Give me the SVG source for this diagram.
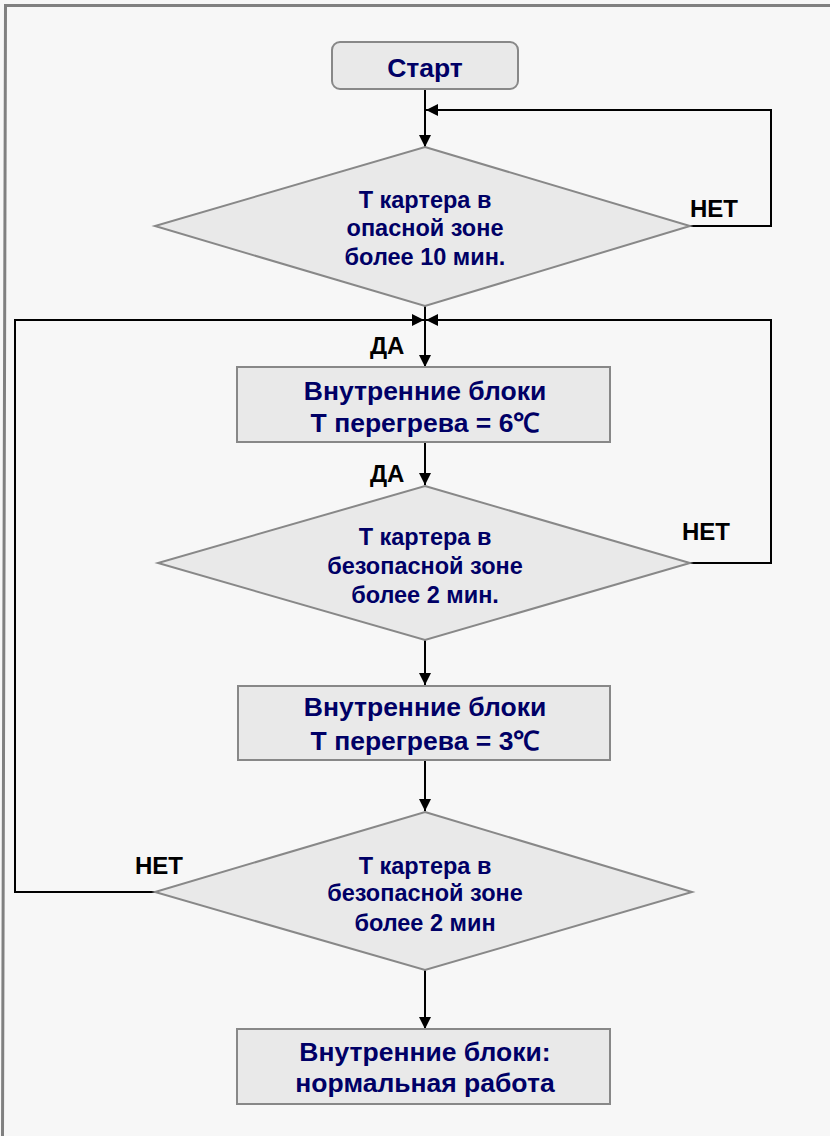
<svg xmlns="http://www.w3.org/2000/svg" width="830" height="1136" viewBox="0 0 830 1136">
<style>
.bg{fill:#f7f7f7}
.frame{fill:none;stroke:#808080;stroke-width:3}
.node{fill:#e9e9e9;stroke:#888888;stroke-width:2}
.t{font-family:"Liberation Sans",Arial,sans-serif;font-weight:bold;fill:#000066;text-anchor:middle}
.d{font-size:23.5px}
.r{font-size:26.5px}
.lbl{font-family:"Liberation Sans",Arial,sans-serif;font-weight:bold;font-size:24px;fill:#000000}
.c{fill:none;stroke:#000000;stroke-width:2}
</style>
<defs>
<marker id="ah" viewBox="0 0 10 10" refX="10" refY="5" markerWidth="6" markerHeight="6" markerUnits="strokeWidth" orient="auto">
<path d="M0,0 L10,5 L0,10 z" fill="#000000"/>
</marker>
</defs>
<rect class="bg" x="0" y="0" width="830" height="1136"/>
<path class="frame" d="M2.5,1140 L5.5,5.5 L835,5.5"/>
<g id="connectors">
<path class="c" d="M425,89 L425,147" marker-end="url(#ah)"/>
<path class="c" d="M690,226 L771,226 L771,110 L426,110" marker-end="url(#ah)"/>
<path class="c" d="M425,305 L425,367" marker-end="url(#ah)"/>
<path class="c" d="M155,892 L15,892 L15,320 L424,320" marker-end="url(#ah)"/>
<path class="c" d="M690,563 L771,563 L771,320 L426,320" marker-end="url(#ah)"/>
<path class="c" d="M425,442 L425,485" marker-end="url(#ah)"/>
<path class="c" d="M425,640 L425,685" marker-end="url(#ah)"/>
<path class="c" d="M425,760 L425,811" marker-end="url(#ah)"/>
<path class="c" d="M425,970 L425,1029" marker-end="url(#ah)"/>
<text class="lbl" x="690" y="217">НЕТ</text>
<text class="lbl" x="370" y="354">ДА</text>
<text class="lbl" x="370" y="482">ДА</text>
<text class="lbl" x="682" y="540">НЕТ</text>
<text class="lbl" x="135" y="874">НЕТ</text>
</g>
<g id="start">
<rect class="node" x="332" y="42" width="186" height="47" rx="8"/>
<text class="t r" x="425" y="77">Старт</text>
</g>
<g id="decision1">
<polygon class="node" points="425,147 690,226 425,306 155,226"/>
<text class="t d" x="425" y="208">Т картера в</text>
<text class="t d" x="425" y="236">опасной зоне</text>
<text class="t d" x="425" y="265">более 10 мин.</text>
</g>
<g id="block6">
<rect class="node" x="237" y="367" width="373" height="75"/>
<text class="t r" x="425" y="400">Внутренние блоки</text>
<text class="t r" x="425" y="432">Т перегрева = 6℃</text>
</g>
<g id="decision2">
<polygon class="node" points="425,486 690,563 425,640 158,563"/>
<text class="t d" x="425" y="545">Т картера в</text>
<text class="t d" x="425" y="574">безопасной зоне</text>
<text class="t d" x="425" y="603">более 2 мин.</text>
</g>
<g id="block3">
<rect class="node" x="238" y="686" width="372" height="74"/>
<text class="t r" x="425" y="716">Внутренние блоки</text>
<text class="t r" x="425" y="750">Т перегрева = 3℃</text>
</g>
<g id="decision3">
<polygon class="node" points="425,812 692,892 425,970 155,892"/>
<text class="t d" x="425" y="874">Т картера в</text>
<text class="t d" x="425" y="901">безопасной зоне</text>
<text class="t d" x="425" y="931">более 2 мин</text>
</g>
<g id="normal">
<rect class="node" x="237" y="1029" width="373" height="75"/>
<text class="t r" x="425" y="1061">Внутренние блоки:</text>
<text class="t r" x="425" y="1092">нормальная работа</text>
</g>
</svg>
